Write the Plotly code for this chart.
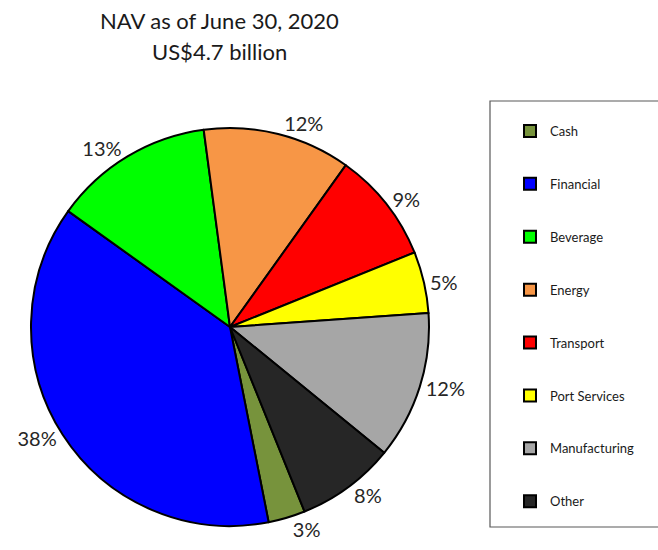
import plotly.graph_objects as go

categories = ["Cash", "Financial", "Beverage", "Energy", "Transport", "Port Services", "Manufacturing", "Other"]
values = [3, 38, 13, 12, 9, 5, 12, 8]
colors = ["#77933C", "#0000FF", "#00FF00", "#F79646", "#FF0000", "#FFFF00", "#A6A6A6", "#262626"]
title_lines = ["NAV as of June 30, 2020", "US$4.7 billion"]

W, H = 658, 550
FONT = "Lato"

fig = go.Figure()
fig.add_trace(go.Pie(
    labels=categories, values=values, sort=False, direction="clockwise", rotation=158,
    marker=dict(colors=colors, line=dict(color="black", width=2)),
    textinfo="percent", textposition="outside", texttemplate="%{percent:.0%}",
    textfont=dict(family=FONT, size=20, color="#262626"),
    domain=dict(x=[31 / W, 429 / W], y=[24 / H, 422 / H]),
    showlegend=False, hoverinfo="label+percent",
))

for name, col in zip(categories, colors):
    fig.add_trace(go.Scatter(
        x=[None], y=[None], mode="markers", name=name, legendgroup=name,
        marker=dict(symbol="square", size=9, color=col, line=dict(color="black", width=1.5)),
        showlegend=True,
    ))

annotations = []
for i, line in enumerate(title_lines):
    annotations.append(dict(text=line, xref="paper", yref="paper",
                            x=219 / W, y=1 - (20 + 32 * i) / H, xanchor="center", yanchor="middle",
                            showarrow=False, font=dict(family=FONT, size=22, color="#1a1a1a")))

fig.update_layout(
    width=W, height=H,
    margin=dict(l=0, r=0, t=0, b=0),
    paper_bgcolor="white", plot_bgcolor="white",
    xaxis=dict(visible=False), yaxis=dict(visible=False),
    legend=dict(x=510 / W, xanchor="left", y=1 - 116 / H, yanchor="top",
                font=dict(family=FONT, size=13, color="#1a1a1a"),
                tracegroupgap=33, traceorder="grouped", bgcolor="rgba(0,0,0,0)", borderwidth=0,
                itemsizing="constant", itemwidth=30),
    shapes=[dict(type="rect", xref="paper", yref="paper", x0=490 / W, x1=1.05,
                 y0=1 - 527 / H, y1=1 - 101 / H, line=dict(color="#595959", width=1.2),
                 fillcolor="rgba(0,0,0,0)")],
    annotations=annotations,
)

fig.write_html("out.html")
